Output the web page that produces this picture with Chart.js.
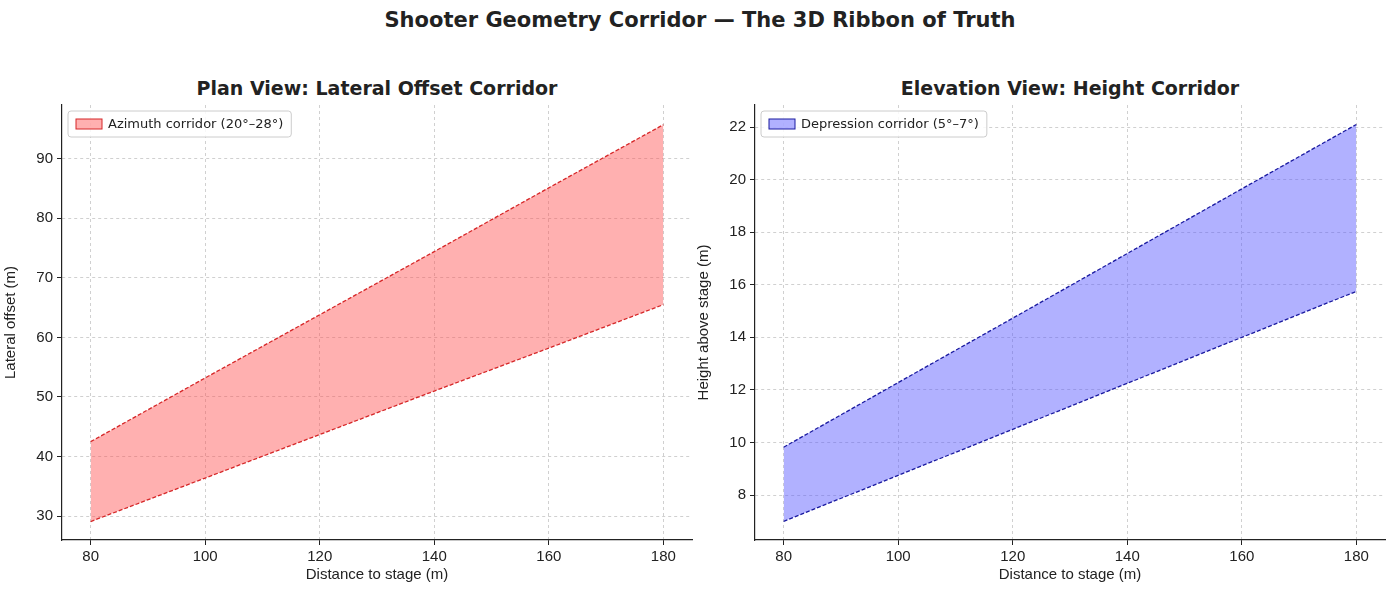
<!DOCTYPE html>
<html><head><meta charset="utf-8">
<script src="https://cdn.jsdelivr.net/npm/chart.js@4"></script>
<style>
body{margin:0;width:1400px;height:600px;background:#fff;font-family:"DejaVu Sans",sans-serif;color:#222;position:relative;overflow:hidden}
.t{position:absolute;font-weight:bold;text-align:center;white-space:nowrap}
canvas{position:absolute}
</style></head><body>
<div class="t" style="left:0;width:1400px;top:8px;font-size:21px">Shooter Geometry Corridor — The 3D Ribbon of Truth</div>
<div class="t" style="left:62px;width:630px;top:77px;font-size:19px">Plan View: Lateral Offset Corridor</div>
<div class="t" style="left:755px;width:630px;top:77px;font-size:19px">Elevation View: Height Corridor</div>
<div style="position:absolute;left:0;top:92px;width:700px;height:508px"><canvas id="left"></canvas></div>
<div style="position:absolute;left:693px;top:92px;width:700px;height:508px"><canvas id="right"></canvas></div>
<script>
const distance = [80, 100, 120, 140, 160, 180];
const lateralLow = [29.1, 36.4, 43.7, 51.0, 58.2, 65.5];
const lateralHigh = [42.5, 53.2, 63.8, 74.4, 85.1, 95.7];
const heightLow = [7.0, 8.75, 10.5, 12.25, 14.0, 15.75];
const heightHigh = [9.82, 12.28, 14.73, 17.19, 19.65, 22.1];

const pts = (ys) => distance.map((x, i) => ({x: x, y: ys[i]}));

const legendBox = {
  id: 'legendBox',
  afterDraw(chart, args, o) {
    const c = chart.ctx, a = chart.chartArea;
    c.save();
    c.font = '13px "DejaVu Sans"';
    const w = c.measureText(o.text).width + 48;
    const x = a.left + 6, y = a.top + 6;
    c.fillStyle = 'rgba(255,255,255,0.85)';
    c.strokeStyle = '#ccc';
    c.lineWidth = 1;
    c.beginPath(); c.roundRect(x, y, w, 26, 3); c.fill(); c.stroke();
    c.fillStyle = o.fill; c.strokeStyle = o.line;
    c.fillRect(x + 8, y + 8, 26, 10); c.strokeRect(x + 8, y + 8, 26, 10);
    c.fillStyle = '#222'; c.textBaseline = 'middle';
    c.fillText(o.text, x + 40, y + 14);
    c.restore();
  }
};

function makeChart(id, low, high, line, fill, ymin, ymax, ystep, ylabel, legendText) {
  const grid = {color: '#d0d0d0', tickColor: '#222', drawTicks: true, tickLength: 5};
  const border = {color: '#222', width: 1.2, dash: [3, 3]};
  new Chart(document.getElementById(id), {
    type: 'line',
    data: {datasets: [
      {data: pts(low), borderColor: line, borderWidth: 1.3, borderDash: [4, 2], pointRadius: 0, fill: false},
      {data: pts(high), borderColor: line, borderWidth: 1.3, borderDash: [4, 2], pointRadius: 0, fill: '-1', backgroundColor: fill}
    ]},
    options: {
      responsive: true, maintainAspectRatio: false, animation: false,
      layout: {padding: {top: 5, right: 8, bottom: 16}},
      plugins: {legend: {display: false}, tooltip: {enabled: false},
        legendBox: {text: legendText, fill: fill, line: line}},
      scales: {
        x: {type: 'linear', min: 75, max: 185,
          afterBuildTicks: ax => { ax.ticks = [80, 100, 120, 140, 160, 180].map(v => ({value: v})); },
          afterFit: ax => { ax.height = 44; },
          grid: grid, border: border,
          ticks: {color: '#222', font: {size: 15}, padding: 3},
          title: {display: true, text: 'Distance to stage (m)', color: '#222', font: {size: 15}, padding: 0}},
        y: {min: ymin, max: ymax,
          afterBuildTicks: ax => { const t = []; for (let v = Math.ceil(ymin / ystep) * ystep; v <= ymax; v += ystep) t.push({value: v}); ax.ticks = t; },
          afterFit: ax => { ax.width = 62; },
          grid: grid, border: border,
          ticks: {color: '#222', font: {size: 15}, padding: 4},
          title: {display: true, text: ylabel, color: '#222', font: {size: 15}, padding: 2}}
      }
    },
    plugins: [legendBox]
  });
}

makeChart('left', lateralLow, lateralHigh, '#d62728', 'rgba(255,80,80,0.45)', 26, 99, 10, 'Lateral offset (m)', 'Azimuth corridor (20°–28°)');
makeChart('right', heightLow, heightHigh, '#1a1aa0', 'rgba(90,90,255,0.47)', 6.29, 22.84, 2, 'Height above stage (m)', 'Depression corridor (5°–7°)');
</script>
</body></html>
